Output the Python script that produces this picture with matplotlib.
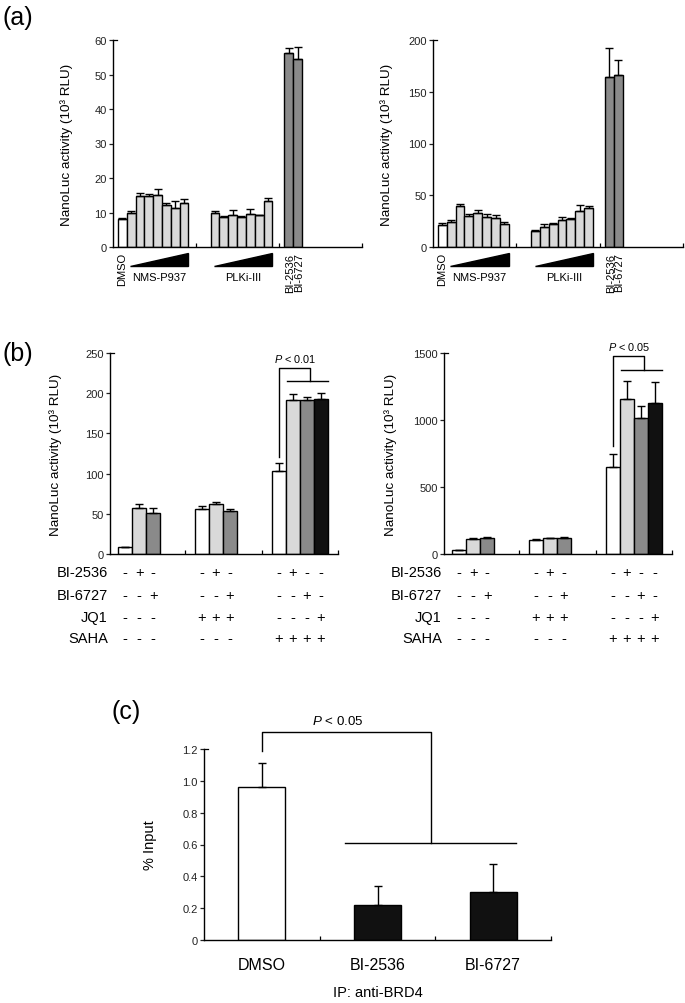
import matplotlib
matplotlib.use('Agg')
import matplotlib.pyplot as plt
from matplotlib.patches import Polygon
import numpy as np

plt.rcParams['font.family'] = ['Liberation Sans', 'DejaVu Sans']
plt.rcParams['mathtext.fontset'] = 'custom'
plt.rcParams['mathtext.rm'] = 'Liberation Sans'
plt.rcParams['mathtext.it'] = 'Liberation Sans:italic'

# ---------------- data ----------------
# (a) left
aL_dmso = [8.0]
aL_dmso_err = [0.4]
aL_nms = [9.8, 14.7, 14.8, 15.2, 12.3, 11.4, 12.7]
aL_nms_err = [0.7, 0.9, 0.6, 1.5, 0.5, 1.8, 1.1]
aL_plk = [9.9, 8.8, 9.2, 8.7, 9.6, 9.2, 13.3]
aL_plk_err = [0.6, 0.2, 1.4, 0.4, 1.5, 0.2, 0.9]
aL_bi = [56.2, 54.4]
aL_bi_err = [1.6, 3.7]
# (a) right
aR_dmso = [21.5]
aR_dmso_err = [1.6]
aR_nms = [24.1, 39.5, 30.2, 32.7, 28.9, 28.3, 22.5]
aR_nms_err = [2.2, 1.6, 1.9, 2.9, 3.2, 2.2, 1.3]
aR_plk = [15.4, 19.6, 22.2, 26.0, 26.6, 35.0, 37.6]
aR_plk_err = [1.0, 2.2, 0.6, 2.9, 1.0, 5.1, 1.9]
aR_bi = [164.7, 166.6]
aR_bi_err = [27.3, 14.4]
a_left_ticks = [0, 10, 20, 30, 40, 50, 60]
a_right_ticks = [0, 50, 100, 150, 200]

# (b)
bL_groups = [[8.3, 57.2, 51.0], [55.6, 62.6, 53.1], [103.6, 191.5, 191.5, 192.8]]
bL_errs = [[0.8, 5.0, 5.8], [3.7, 2.5, 3.3], [9.6, 7.9, 4.2, 7.9]]
bR_groups = [[30, 115, 118], [107, 116, 118], [652, 1157, 1017, 1129]]
bR_errs = [[2, 8, 10], [5, 6, 8], [94, 137, 85, 152]]
b_left_ticks = [0, 50, 100, 150, 200, 250]
b_right_ticks = [0, 500, 1000, 1500]
b_row_labels = ['BI-2536', 'BI-6727', 'JQ1', 'SAHA']
b_signs = [
    [['-', '+', '-'], ['-', '+', '-'], ['-', '+', '-', '-']],
    [['-', '-', '+'], ['-', '-', '+'], ['-', '-', '+', '-']],
    [['-', '-', '-'], ['+', '+', '+'], ['-', '-', '-', '+']],
    [['-', '-', '-'], ['-', '-', '-'], ['+', '+', '+', '+']],
]
b_pvals = ['$P$ < 0.01', '$P$ < 0.05']

# (c)
c_labels = ['DMSO', 'BI-2536', 'BI-6727']
c_vals = [0.959, 0.222, 0.304]
c_errs = [0.153, 0.115, 0.171]
c_ticks = [0, 0.2, 0.4, 0.6, 0.8, 1.0, 1.2]
c_ticklabels = ['0', '0.2', '0.4', '0.6', '0.8', '1.0', '1.2']

WHITE = '#ffffff'
LG = '#d9d9d9'
DG = '#8a8a8a'
BLK = '#111111'

ylab = 'NanoLuc activity (10\u00b3 RLU)'

W, H = 685, 1004
fig = plt.figure(figsize=(W / 100, H / 100), dpi=100)


def add_axes(x0, x1, ytop, ybot):
    return fig.add_axes([x0 / W, 1 - ybot / H, (x1 - x0) / W, (ybot - ytop) / H])


def style(ax, yticks, ylim, xlim, xticks, ylabelx, tickfs=8):
    for s in ['top', 'right']:
        ax.spines[s].set_visible(False)
    for s in ['left', 'bottom']:
        ax.spines[s].set_linewidth(1.0)
    ax.set_ylim(*ylim)
    ax.set_xlim(*xlim)
    ax.set_yticks(yticks)
    ax.set_xticks(xticks)
    ax.set_xticklabels([])
    ax.tick_params(axis='y', direction='out', length=3, width=0.9, pad=1.5,
                   labelsize=tickfs, colors='#222222')
    ax.tick_params(axis='x', direction='in', length=3, width=0.9)
    ax.yaxis.set_label_coords(ylabelx, 0.5)
    # small inward cap at top of y axis
    bbox = ax.get_position()
    dx = 4 / (bbox.width * W)
    ax.plot([0, dx], [1, 1], transform=ax.transAxes, color='black', lw=0.9,
            clip_on=False)


def bars(ax, xs, vals, errs, color, width=1.0, capsize=2.6):
    ax.bar(xs, vals, width=width, color=color, edgecolor='black', linewidth=1.0, zorder=2)
    ax.errorbar(xs, vals, yerr=[np.zeros(len(vals)), errs], fmt='none', ecolor='black',
                elinewidth=1.0, capsize=capsize, capthick=1.0, zorder=3)


# ---------------- panel (a) ----------------
def panel_a(ax, dmso, dmso_e, nms, nms_e, plk, plk_e, bi, bi_e, yticks, ymax, ylabelx):
    dmso_x = np.array([1.05])
    nms_x = 2.05 + np.arange(len(nms))
    plk_x = 11.55 + np.arange(len(plk))
    bi_x = 19.9 + np.arange(len(bi))
    bars(ax, dmso_x, dmso, dmso_e, WHITE)
    bars(ax, nms_x, nms, nms_e, LG)
    bars(ax, plk_x, plk, plk_e, LG)
    bars(ax, bi_x, bi, bi_e, DG)
    style(ax, yticks, (0, ymax), (0, 28.2), [9.35, 18.8, 28.2], ylabelx)
    ax.set_ylabel(ylab, fontsize=9.7)
    tr = ax.get_xaxis_transform()
    ax.text(dmso_x[0], -0.025, 'DMSO', rotation=90, ha='center', va='top',
            fontsize=8, transform=tr)
    for xs, name in [(nms_x, 'NMS-P937'), (plk_x, 'PLKi-III')]:
        x0 = xs[0] - 0.1
        x1 = xs[-1] + 0.5
        poly = Polygon([[x0, -0.092], [x1, -0.092], [x1, -0.03]], closed=True,
                       facecolor='black', edgecolor='black', transform=tr, clip_on=False)
        ax.add_patch(poly)
        ax.text((x0 + x1) / 2, -0.145, name, ha='center', va='center', fontsize=8,
                transform=tr)
    for x, name in zip(bi_x, ['BI-2536', 'BI-6727']):
        ax.text(x + 0.15, -0.027, name, rotation=90, ha='center', va='top',
                fontsize=8, transform=tr)


axL = add_axes(113, 362, 41, 248)
panel_a(axL, aL_dmso, aL_dmso_err, aL_nms, aL_nms_err, aL_plk, aL_plk_err, aL_bi, aL_bi_err,
        a_left_ticks, 60, -0.16)
axR = add_axes(433, 683, 41, 248)
panel_a(axR, aR_dmso, aR_dmso_err, aR_nms, aR_nms_err, aR_plk, aR_plk_err, aR_bi, aR_bi_err,
        a_right_ticks, 200, -0.16)

# ---------------- panel (b) ----------------
group_starts = [0.6, 6.1, 11.65]
group_colors = [[WHITE, LG, DG], [WHITE, LG, DG], [WHITE, LG, DG, BLK]]
row_y = [-0.09, -0.205, -0.315, -0.42]


def panel_b(ax, groups, errs, yticks, ymax, ylabelx, ptext, brk):
    centers = []
    for g, e, s, cols in zip(groups, errs, group_starts, group_colors):
        xs = s + 0.5 + np.arange(len(g))
        centers.append(xs)
        for x, v, er, c in zip(xs, g, e, cols):
            bars(ax, [x], [v], [er], c, capsize=3.0)
    style(ax, yticks, (0, ymax), (0, 16.4), [5.4, 10.9, 16.4], ylabelx)
    ax.set_ylabel(ylab, fontsize=9.7)
    tr = ax.get_xaxis_transform()
    for r, lab in enumerate(b_row_labels):
        ax.text(-0.15, row_y[r], lab, ha='right', va='center', fontsize=10.5, transform=tr)
        for gi, xs in enumerate(centers):
            for x, sg in zip(xs, b_signs[r][gi]):
                ax.text(x, row_y[r], sg, ha='center', va='center', fontsize=10.5,
                        transform=tr)
    # significance bracket
    y_low, y_top, y_right, y_line = brk
    s3 = group_starts[2]
    xl = centers[2][0]
    xr = s3 + 2.7
    ax.plot([xl, xl, xr, xr], [y_low, y_top, y_top, y_right], color='black', lw=1.0,
            clip_on=False)
    ax.plot([s3 + 1.1, s3 + 4.05], [y_right, y_right], color='black', lw=1.0, clip_on=False)
    ax.text(s3 + 1.65, y_top + (ymax * 0.05), ptext, ha='center', va='center', fontsize=7.8,
            clip_on=False)


bl = add_axes(110, 338, 354, 555)
panel_b(bl, bL_groups, bL_errs, b_left_ticks, 250, -0.21, b_pvals[0], (121, 231, 215, 215))
br = add_axes(444, 672, 354, 555)
panel_b(br, bR_groups, bR_errs, b_right_ticks, 1500, -0.206, b_pvals[1], (808, 1475, 1376, 1376))

# ---------------- panel (c) ----------------
cx = add_axes(204, 551, 750, 941)
xs = np.arange(len(c_vals))
ccols = [WHITE, BLK, BLK]
for x, v, e, c in zip(xs, c_vals, c_errs, ccols):
    bars(cx, [x], [v], [e], c, width=0.405, capsize=3.0)
style(cx, c_ticks, (0, 1.2), (-0.5, 2.5), [0.5, 1.5, 2.5], -0.135, tickfs=8)
cx.set_yticklabels(c_ticklabels)
cx.set_ylabel('% Input', fontsize=10.5)
tr = cx.get_xaxis_transform()
for x, lab in zip(xs, c_labels):
    cx.text(x, -0.13, lab, ha='center', va='center', fontsize=11.5, transform=tr)
cx.text(1.0, -0.27, 'IP: anti-BRD4', ha='center', va='center', fontsize=10.5, transform=tr)
cx.plot([0, 0, 1.46, 1.46], [1.19, 1.309, 1.309, 0.609], color='black', lw=1.0, clip_on=False)
cx.plot([0.72, 2.2], [0.609, 0.609], color='black', lw=1.0, clip_on=False)
cx.text(0.66, 1.378, '$P$ < 0.05', ha='center', va='center', fontsize=9.6, clip_on=False)

# panel letters
fig.text(3 / W, 1 - 18 / H, '(a)', fontsize=18, ha='left', va='center')
fig.text(3 / W, 1 - 354 / H, '(b)', fontsize=18, ha='left', va='center')
fig.text(111 / W, 1 - 712 / H, '(c)', fontsize=18, ha='left', va='center')

fig.savefig('out.png', dpi=100)
